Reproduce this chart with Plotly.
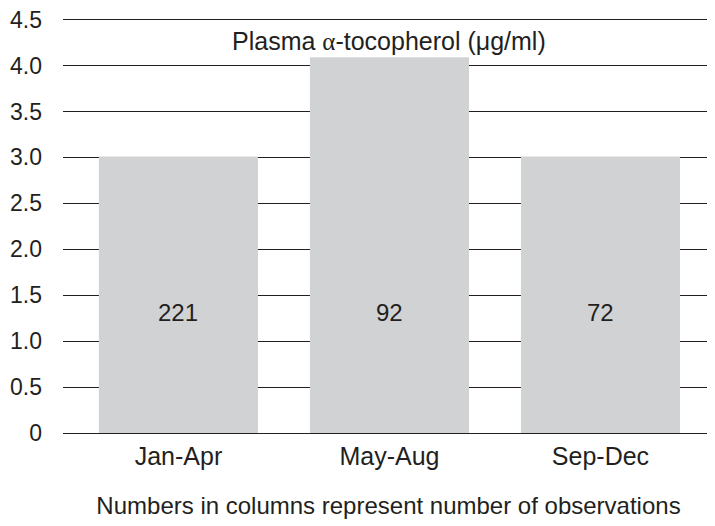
import plotly.graph_objects as go

periods = ["Jan-Apr", "May-Aug", "Sep-Dec"]
tocopherol = [3.01, 4.09, 3.01]
n_obs = [221, 92, 72]
y_ticks = [0, 0.5, 1.0, 1.5, 2.0, 2.5, 3.0, 3.5, 4.0, 4.5]
y_tick_labels = ["0", "0.5", "1.0", "1.5", "2.0", "2.5", "3.0", "3.5", "4.0", "4.5"]

FONT = "Liberation Sans, Arial, sans-serif"
TXT = "#231f20"

fig = go.Figure()
fig.add_trace(go.Bar(
    x=periods, y=tocopherol,
    marker=dict(color="#d1d2d4", line=dict(width=0)),
    width=0.754,
    hoverinfo="skip",
))

LABEL_Y = 1.31
for p, n in zip(periods, n_obs):
    fig.add_annotation(x=p, y=LABEL_Y, xref="x", yref="y", text=str(n),
                       showarrow=False, font=dict(family=FONT, size=24, color=TXT))

fig.add_annotation(
    x=periods[1], y=4.27, xref="x", yref="y",
    text='Plasma <span style="font-family:Liberation Serif">α</span>-tocopherol (μg/ml)',
    showarrow=False, font=dict(family=FONT, size=25, color=TXT),
)

# page body has an 8px offset; figure sized to fit the 715x526 window
fig.update_layout(
    width=707, height=518,
    margin=dict(l=55, r=1, t=7, b=93, autoexpand=False),
    paper_bgcolor="white", plot_bgcolor="white",
    showlegend=False,
    font=dict(family=FONT, color=TXT, size=24),
)
fig.update_xaxes(
    range=[-0.547, 2.538], automargin=False,
    showgrid=False, showline=False, zeroline=False,
    ticks="", ticklabelstandoff=6,
    tickfont=dict(family=FONT, size=25, color=TXT),
    title=dict(text="Numbers in columns represent number of observations",
               font=dict(family=FONT, size=24, color=TXT), standoff=28),
)
fig.update_yaxes(
    range=[0, 4.55], automargin=False,
    tickvals=y_ticks, ticktext=y_tick_labels,
    showgrid=True, gridcolor="#231f20", gridwidth=1.2,
    zeroline=True, zerolinecolor="#231f20", zerolinewidth=1.2,
    showline=False, ticks="", ticklabelstandoff=20,
    ticklabeloverflow="allow",
    tickfont=dict(family=FONT, size=23, color=TXT),
)

fig.write_html("out.html")
